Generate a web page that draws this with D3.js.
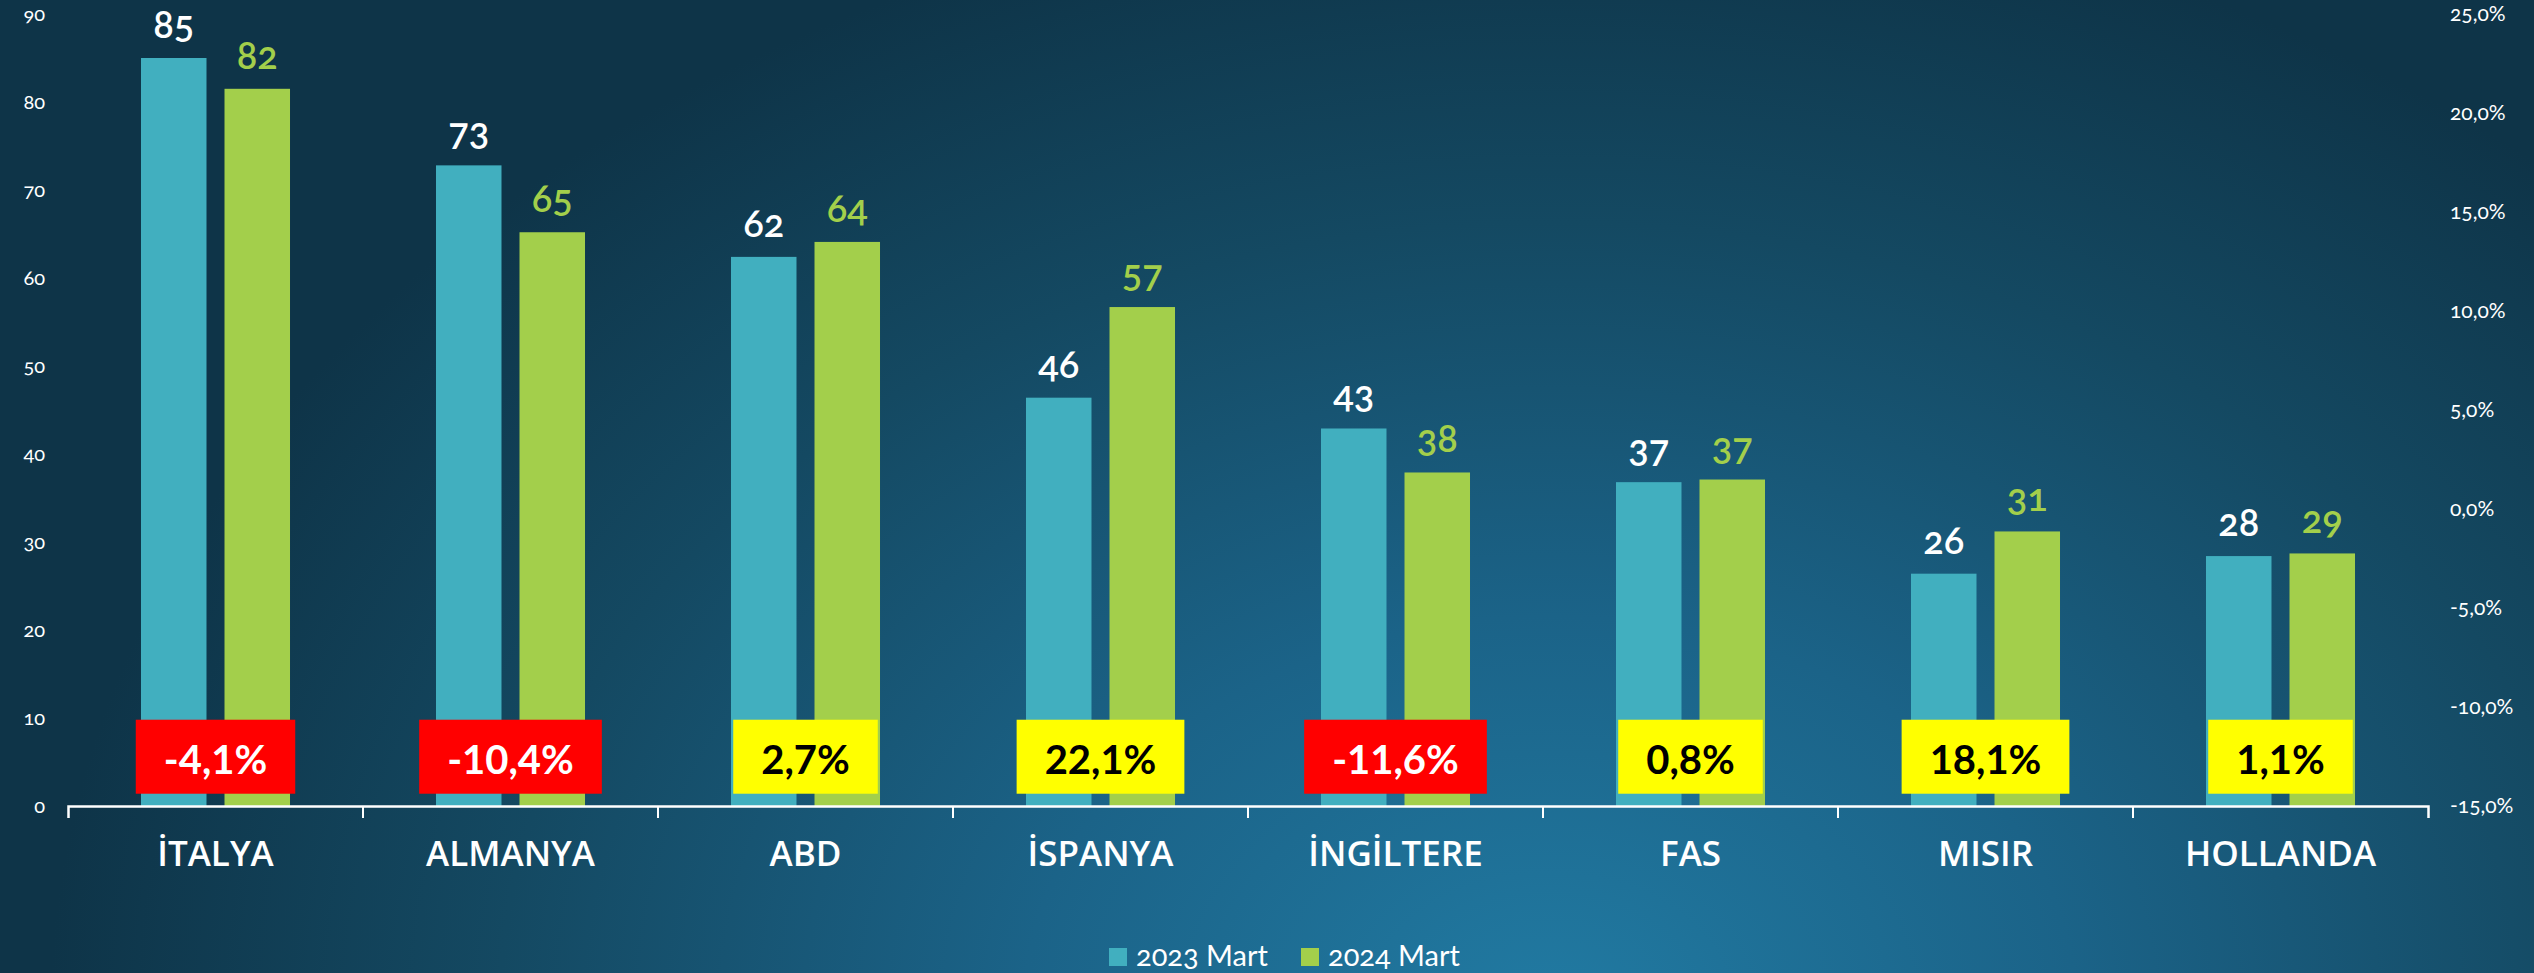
<!DOCTYPE html>
<html>
<head>
<meta charset="utf-8">
<script src="https://cdn.jsdelivr.net/npm/d3@7"></script>
<style>
	body { margin: 0; background: #0e3549; overflow: hidden; }
	svg { display: block; }
	.num { font-family: Lato, "Open Sans", sans-serif; font-variant-numeric: oldstyle-nums; font-feature-settings: "onum" 1; }
	.cat text { font-family: "Open Sans", sans-serif; font-weight: 600; }
</style>
</head>
<body>
<svg class="chart"></svg>
<script>
// values
const countries = ["İTALYA", "ALMANYA", "ABD", "İSPANYA", "İNGİLTERE", "FAS", "MISIR", "HOLLANDA"];
const series = ["2023 Mart", "2024 Mart"];
const values2023 = [85.0, 72.8, 62.4, 46.4, 42.9, 36.8, 26.4, 28.4];
const values2024 = [81.5, 65.2, 64.1, 56.7, 37.9, 37.1, 31.2, 28.7];
const changes = [-4.1, -10.4, 2.7, 22.1, -11.6, 0.8, 18.1, 1.1];
const leftTicks = [0, 10, 20, 30, 40, 50, 60, 70, 80, 90];
const rightTicks = [-0.15, -0.1, -0.05, 0, 0.05, 0.1, 0.15, 0.2, 0.25];

const size = { w: 2534, h: 973 };
const margin = { t: 14, r: 106, b: 167, l: 68 };
const colors = { "2023 Mart": "#41afbf", "2024 Mart": "#a3cf4b" };
const labelColors = { "2023 Mart": "#ffffff", "2024 Mart": "#a3cf4b" };
const boxAt = 5.6; // change boxes sit around this left-axis value

const svg = d3.select("svg.chart").attr("width", size.w).attr("height", size.h);

// background
const defs = svg.append("defs");
const grad = defs
	.append("radialGradient")
	.attr("id", "bg")
	.attr("gradientUnits", "userSpaceOnUse")
	.attr("cx", 1550)
	.attr("cy", 1010)
	.attr("r", 1500)
	.attr("gradientTransform", "translate(1550,1010) scale(1,0.75) translate(-1550,-1010)");
[
	[0, "#217aa2"],
	[0.35, "#1b6388"],
	[0.7, "#144962"],
	[1, "#0e3448"],
].forEach((s) => grad.append("stop").attr("offset", s[0]).attr("stop-color", s[1]));
svg.append("rect").attr("width", size.w).attr("height", size.h).attr("fill", "url(#bg)");

const data = countries.map((c, i) => ({
	country: c,
	change: changes[i],
	bars: [
		{ key: series[0], value: values2023[i] },
		{ key: series[1], value: values2024[i] },
	],
}));

const xScale = d3.scaleBand().domain(countries).range([margin.l, size.w - margin.r]);
const x1 = d3.scaleBand().domain(series).range([0, xScale.bandwidth()]).paddingInner(0.2156).paddingOuter(0.874);
const yScale = d3.scaleLinear().domain([0, 90]).range([size.h - margin.b, margin.t]);
const y2Scale = d3.scaleLinear().domain([-0.15, 0.25]).range([size.h - margin.b, margin.t]);

const trLocale = d3.formatLocale({ decimal: ",", thousands: ".", grouping: [3], currency: ["", ""], minus: "-" });
const pct = trLocale.format(".1%");

// left axis
const yAxis = svg
	.append("g")
	.attr("class", "num")
	.attr("transform", `translate(${margin.l},0)`)
	.call(d3.axisLeft(yScale).tickValues(leftTicks).tickSize(0).tickPadding(23));
yAxis.select(".domain").remove();
yAxis.selectAll("text").attr("fill", "#ffffff").style("font-size", "20px");

// right axis
const xEnd = xScale.range()[1];
const y2Axis = svg
	.append("g")
	.attr("class", "num")
	.attr("transform", `translate(${xEnd},0)`)
	.call(d3.axisRight(y2Scale).tickValues(rightTicks).tickFormat(pct).tickSize(0).tickPadding(22));
y2Axis.select(".domain").remove();
y2Axis.selectAll("text").attr("fill", "#ffffff").style("font-size", "21px");

// bars
const groups = svg
	.append("g")
	.selectAll("g")
	.data(data)
	.join("g")
	.attr("transform", (d) => `translate(${xScale(d.country)},0)`);

groups
	.selectAll("rect")
	.data((d) => d.bars)
	.join("rect")
	.attr("x", (d) => x1(d.key))
	.attr("y", (d) => yScale(d.value))
	.attr("width", x1.bandwidth())
	.attr("height", (d) => yScale(0) - yScale(d.value))
	.attr("fill", (d) => colors[d.key]);

groups
	.selectAll("text.val")
	.data((d) => d.bars)
	.join("text")
	.attr("class", "val num")
	.attr("x", (d) => x1(d.key) + x1.bandwidth() / 2)
	.attr("y", (d) => yScale(d.value) - 20)
	.attr("text-anchor", "middle")
	.attr("fill", (d) => labelColors[d.key])
	.style("font-size", "38px")
	.style("font-weight", 600)
	.text((d) => Math.round(d.value));

// change boxes
groups.each(function (d) {
	const g = d3.select(this);
	const cx = xScale.bandwidth() / 2;
	const cy = yScale(boxAt);
	const box = g.append("rect");
	const t = g
		.append("text")
		.attr("x", cx)
		.attr("y", cy + 7)
		.attr("text-anchor", "middle")
		.attr("dominant-baseline", "middle")
		.attr("fill", d.change < 0 ? "#ffffff" : "#000000")
		.style("font-family", "Lato, sans-serif")
		.style("font-weight", "bold")
		.style("font-size", "40px")
		.text(pct(d.change / 100));
	const tw = t.node().getComputedTextLength();
	box
		.attr("x", cx - tw / 2 - 28)
		.attr("y", cy - 37)
		.attr("width", tw + 56)
		.attr("height", 74)
		.attr("fill", d.change < 0 ? "#ff0000" : "#ffff00");
});

// category axis
const xAxis = svg
	.append("g")
	.attr("class", "cat")
	.attr("transform", `translate(0,${yScale(0)})`)
	.call(d3.axisBottom(xScale).tickSizeInner(0).tickSizeOuter(12).tickPadding(35));
xAxis.select(".domain").attr("stroke", "#ffffff").attr("stroke-width", 2.5);
xAxis.selectAll("text").attr("fill", "#ffffff").style("font-size", "35px");

// boundary ticks between categories
svg
	.append("g")
	.selectAll("line")
	.data(countries.slice(1))
	.join("line")
	.attr("x1", (d) => xScale(d))
	.attr("x2", (d) => xScale(d))
	.attr("y1", yScale(0))
	.attr("y2", yScale(0) + 12)
	.attr("stroke", "#ffffff")
	.attr("stroke-width", 2);

// legend
const legend = svg
	.append("g")
	.attr("transform", "translate(1109,948)")
	.selectAll("g")
	.data(series)
	.join("g")
	.attr("transform", (d, i) => `translate(${i * 192},0)`);
legend.append("rect").attr("width", 18).attr("height", 18).attr("fill", (d) => colors[d]);
legend
	.append("text")
	.attr("class", "num")
	.attr("x", 27)
	.attr("y", 18)
	.attr("fill", "#ffffff")
	.style("font-size", "29px")
	.text((d) => d);
</script>
</body>
</html>
